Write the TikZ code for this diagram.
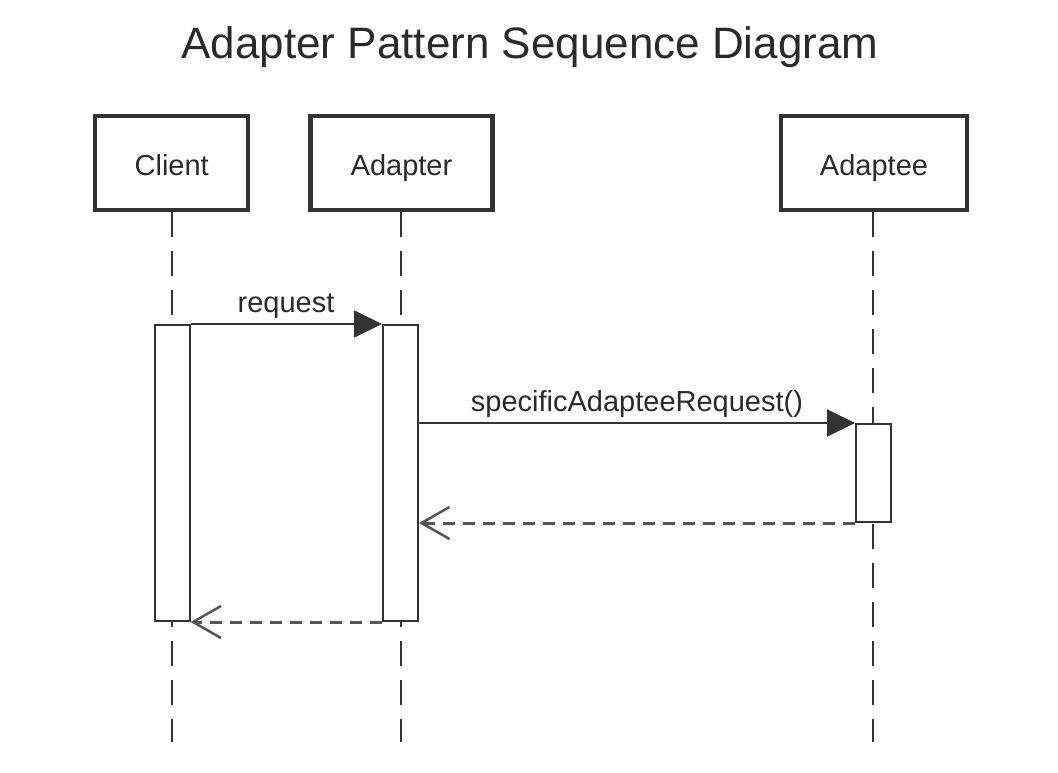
\documentclass[tikz,border=0pt]{standalone}
\usepackage{fontspec}
\setmainfont{Liberation Sans}
\usetikzlibrary{arrows.meta}
\definecolor{ink}{HTML}{2A2A2A}
\definecolor{linec}{HTML}{333333}
\definecolor{dashc}{HTML}{555555}
\begin{document}
\begin{tikzpicture}[x=1pt,y=-1pt,
  objbox/.style={draw=linec,line width=4.5pt,fill=white,inner sep=0pt,
    text height=26pt,text depth=0pt,
    font=\fontsize{29}{34}\selectfont,text=ink},
  actbox/.style={draw=linec,line width=2pt,fill=white,inner sep=0pt,minimum width=35pt},
  lifeline/.style={draw=linec,line width=2.5pt,dash pattern=on 25pt off 14pt},
  callmsg/.style={draw=linec,line width=2pt,-{Triangle[length=28pt,width=27pt]}},
  retmsg/.style={draw=dashc,line width=3pt,dash pattern=on 12pt off 8pt,
    -{Straight Barb[length=28pt,width=32pt,line width=2.5pt]}},
  msglabel/.style={font=\fontsize{29}{34}\selectfont,text=ink,inner sep=0pt,anchor=base}
]
\useasboundingbox (0,0) rectangle (1058,772);
\fill[white] (0,0) rectangle (1058,772);

% title
\node[font=\fontsize{44}{50}\selectfont,text=ink,anchor=base] (title) at (530,58) {Adapter Pattern Sequence Diagram};

% objects
\node[objbox,minimum width=153pt,minimum height=94pt] (client) at (171.7,162.9) {Client};
\node[objbox,minimum width=182pt,minimum height=94pt] (adapter) at (401.5,162.9) {Adapter};
\node[objbox,minimum width=186pt,minimum height=94pt] (adaptee) at (874,162.9) {Adaptee};

% lifeline ends
\coordinate (clientend) at (172,742);
\coordinate (adapterend) at (401,742);
\coordinate (adapteeend) at (873,742);

\draw[lifeline] (client.south -| clientend) -- (clientend);
\draw[lifeline] (adapter.south -| adapterend) -- (adapterend);
\draw[lifeline] (adaptee.south -| adapteeend) -- (adapteeend);

% activations
\node[actbox,minimum height=296pt] (clientact) at (172,473) {};
\node[actbox,minimum height=296pt] (adapteract) at (400.5,473) {};
\node[actbox,minimum height=98pt] (adapteeact) at (873.5,473) {};

% messages
\draw[callmsg] (clientact.north east) -- (adapteract.north west);
\node[msglabel] (reqlabel) at (286,312) {request};

\draw[callmsg] (adapteract.east |- adapteeact.north) -- (adapteeact.north west);
\node[msglabel] (speclabel) at (637,411) {specificAdapteeRequest()};

\draw[retmsg] (adapteeact.south west) -- (adapteract.east |- adapteeact.south);
\draw[retmsg] (adapteract.south west) -- (clientact.south east);
\end{tikzpicture}
\end{document}
